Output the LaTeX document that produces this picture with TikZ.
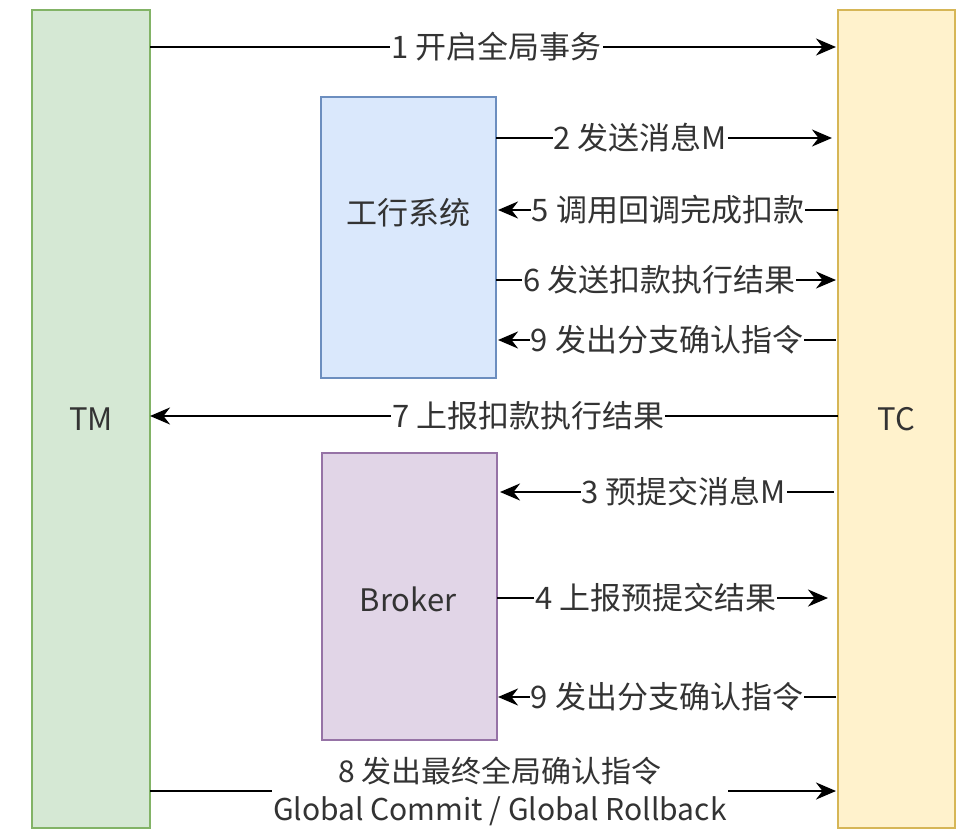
\documentclass[tikz,border=0pt]{standalone}
\usepackage{fontspec}
\setmainfont{Noto Sans CJK SC}
\usetikzlibrary{arrows.meta}
\definecolor{tmf}{HTML}{D5E8D4}\definecolor{tms}{HTML}{82B366}
\definecolor{tcf}{HTML}{FFF2CC}\definecolor{tcs}{HTML}{D6B656}
\definecolor{bf}{HTML}{DAE8FC}\definecolor{bs}{HTML}{6C8EBF}
\definecolor{pf}{HTML}{E1D5E7}\definecolor{ps}{HTML}{9673A6}
\begin{document}
\begin{tikzpicture}[x=1pt,y=-1pt,
 box/.style={draw,line width=2pt,font=\fontsize{31}{35}\selectfont,text=black!80},
 arr/.style={-{Stealth[length=20pt,width=17pt]},line width=2.5pt},
 lab/.style={fill=white,inner sep=1pt,font=\fontsize{31}{35}\selectfont,text=black!80}]
\useasboundingbox (0,0) rectangle (971,838);
\fill[white] (0,0) rectangle (971,838);
\node[box,fill=tmf,draw=tms,minimum width=118pt,minimum height=818pt] (tm) at (91,419) {TM};
\node[box,fill=tcf,draw=tcs,minimum width=117pt,minimum height=818pt] (tc) at (896.5,419) {TC};
\node[box,fill=bf,draw=bs,minimum width=175pt,minimum height=281pt] (gh) at (408.5,237.5) {};
\node[font=\fontsize{31}{35}\selectfont,text=black!80] at (408.5,213) {工行系统};
\node[box,fill=pf,draw=ps,minimum width=175pt,minimum height=287pt] (br) at (409.5,596.5) {};
\node[font=\fontsize{31}{35}\selectfont,text=black!80] at (408,599) {Broker};
\coordinate (a1) at (150,47); \coordinate (b1) at (836,47);
\draw[arr] (a1) -- node[lab,pos=0.505]{1 开启全局事务} (b1);
\coordinate (a2) at (496,138); \coordinate (b2) at (832,138);
\draw[arr] (a2) -- node[lab,pos=0.43]{2 发送消息M} (b2);
\coordinate (a5) at (838,210); \coordinate (b5) at (498,210);
\draw[arr] (a5) -- node[lab,pos=0.5]{5 调用回调完成扣款} (b5);
\coordinate (a6) at (496,280); \coordinate (b6) at (836,280);
\draw[arr] (a6) -- node[lab,pos=0.48]{6 发送扣款执行结果} (b6);
\coordinate (a9) at (836,340); \coordinate (b9) at (498,340);
\draw[arr] (a9) -- node[lab,pos=0.5]{9 发出分支确认指令} (b9);
\coordinate (a7) at (838,416); \coordinate (b7) at (150,416);
\draw[arr] (a7) -- node[lab,pos=0.45]{7 上报扣款执行结果} (b7);
\coordinate (a3) at (834,492); \coordinate (b3) at (500,492);
\draw[arr] (a3) -- node[lab,pos=0.45]{3 预提交消息M} (b3);
\coordinate (a4) at (497,598); \coordinate (b4) at (828,598);
\draw[arr] (a4) -- node[lab,pos=0.48]{4 上报预提交结果} (b4);
\coordinate (a10) at (836,697); \coordinate (b10) at (498,697);
\draw[arr] (a10) -- node[lab,pos=0.5]{9 发出分支确认指令} (b10);
\coordinate (a8) at (150,791); \coordinate (b8) at (836,791);
\draw[arr] (a8) -- node[lab,pos=0.51,align=center,font=\fontsize{30}{38}\selectfont]{8 发出最终全局确认指令\\Global Commit / Global Rollback} (b8);
\end{tikzpicture}
\end{document}
